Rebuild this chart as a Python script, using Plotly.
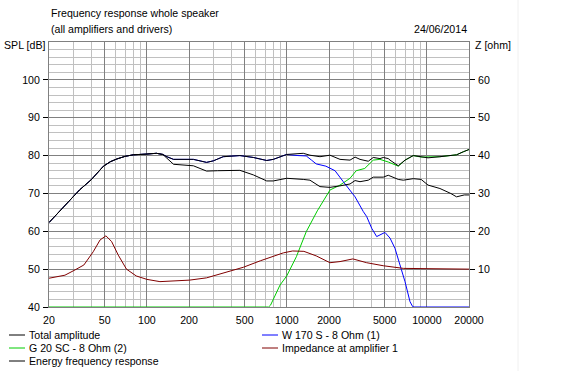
import plotly.graph_objects as go

# ---------------- data ----------------
freq_total = [20, 24, 30, 33, 40, 49, 55, 61, 70, 80, 100, 117, 130, 139, 155, 215, 267, 298, 351, 462,
              576, 718, 800, 998, 1310, 1462, 1724, 2032, 2398, 2826, 3070, 3330, 3816, 4140, 4625, 4885,
              5300, 5456, 6250, 6980, 8000, 9700, 10200, 12400, 16300, 18200, 20000]
spl_total = [62.3, 65.4, 69.0, 70.9, 73.6, 77.2, 78.4, 79.1, 79.8, 80.2, 80.4, 80.6, 80.3, 79.7, 79.0, 79.0,
             78.2, 78.6, 79.7, 80.0, 79.5, 78.7, 79.0, 80.3, 80.6, 80.1, 79.7, 80.1, 79.0, 78.8, 79.6, 79.0,
             78.5, 79.5, 79.2, 79.5, 79.2, 78.8, 77.3, 78.8, 80.0, 79.5, 79.4, 79.7, 80.2, 81.0, 81.6]

freq_energy = [20, 24, 30, 33, 40, 49, 55, 61, 70, 80, 100, 117, 130, 139, 155, 215, 267, 320, 462, 576,
               718, 800, 998, 1310, 1462, 1724, 2032, 2398, 2826, 3070, 3330, 3816, 4140, 4885, 5300, 6250,
               6790, 8000, 9100, 10200, 12400, 14800, 16300, 18500, 20000]
spl_energy = [62.3, 65.4, 69.0, 70.9, 73.6, 77.2, 78.4, 79.1, 79.8, 80.2, 80.4, 80.6, 80.3, 79.3, 77.7, 77.3,
              75.9, 76.0, 76.1, 74.9, 73.3, 73.3, 74.0, 73.7, 73.5, 71.8, 71.6, 72.0, 72.5, 73.4, 73.1, 73.5,
              74.3, 74.3, 74.8, 73.7, 73.5, 73.9, 73.7, 72.2, 71.3, 70.0, 69.1, 69.6, 69.6]

freq_woofer = [20, 24, 30, 33, 40, 49, 55, 61, 70, 80, 100, 117, 130, 139, 155, 215, 267, 298, 351, 462,
               576, 718, 800, 845, 998, 1200, 1376, 1500, 1620, 1900, 2208, 2530, 2826, 3070, 3516, 3716,
               4036, 4380, 5020, 5456, 5920, 6427, 6980, 7580, 7920, 8100, 20000]
spl_woofer = [62.3, 65.4, 69.0, 70.9, 73.6, 77.2, 78.4, 79.1, 79.8, 80.2, 80.4, 80.6, 80.3, 79.7, 79.0, 79.0,
              78.2, 78.6, 79.7, 80.0, 79.5, 78.7, 79.0, 79.3, 80.3, 80.0, 79.9, 78.8, 77.8, 77.2, 76.0, 73.1,
              70.9, 69.1, 65.2, 63.9, 60.8, 58.6, 59.7, 58.2, 55.5, 51.1, 46.7, 41.4, 40.1, 40.0, 40.0]

freq_tweeter = [20, 740, 765, 894, 998, 1170, 1376, 1415, 1650, 2032, 2398, 2826, 3130, 3600, 4140, 4625,
                5300, 6250, 7000, 8000, 9100, 12400, 16300, 18200, 20000]
spl_tweeter = [40.0, 40.0, 40.5, 45.8, 48.2, 53.3, 59.9, 60.8, 65.4, 70.9, 72.2, 74.0, 76.0, 76.6, 78.8, 79.0,
               78.3, 77.2, 78.8, 80.0, 79.6, 79.7, 80.2, 81.0, 81.6]

freq_imp = [20, 26, 30.7, 35.5, 41.4, 46.3, 51, 56, 62.5, 71.5, 84, 100, 124, 155, 202, 267, 372, 489, 646,
            800, 944, 1100, 1324, 1620, 2032, 2398, 2962, 3716, 4885, 6790, 10000, 14000, 20000]
z_imp = [7.6, 8.4, 9.8, 11.1, 14.6, 17.7, 18.8, 17.3, 13.7, 10.0, 8.2, 7.3, 6.7, 6.9, 7.1, 7.7, 9.3, 10.5, 12.2,
         13.5, 14.3, 14.8, 14.7, 13.5, 11.7, 12.0, 12.7, 11.7, 10.9, 10.2, 10.2, 10.1, 10.0]

x_tick_vals = [20, 50, 100, 200, 500, 1000, 2000, 5000, 10000, 20000]
x_tick_text = ["20", "50", "100", "200", "500", "1000", "2000", "5000", "10000", "20000"]
x_minor_vals = [30, 40, 60, 70, 80, 90, 300, 400, 600, 700, 800, 900,
                3000, 4000, 6000, 7000, 8000, 9000]
spl_ticks = [40, 50, 60, 70, 80, 90, 100]
z_ticks = [10, 20, 30, 40, 50, 60]

legend_items = [("Total amplitude", "#000000"), ("W 170 S - 8 Ohm (1)", "#0000ff"),
                ("G 20 SC - 8 Ohm (2)", "#00cc00"), ("Impedance at amplifier 1", "#800000"),
                ("Energy frequency response", "#000000")]

# ---------------- figure ----------------
W, H = 573, 371
L, R, T, B = 49, 469, 42, 307
FONT = "Liberation Sans, Arial, sans-serif"
FS = 10.6


def px(xp):
    return (xp - L) / (R - L)


def py(yp):
    return (B - yp) / (B - T)


fig = go.Figure()
fig.add_trace(go.Scatter(x=freq_tweeter, y=spl_tweeter, mode="lines",
                         line=dict(color="#00cc00", width=1), name="G 20 SC - 8 Ohm (2)"))
fig.add_trace(go.Scatter(x=freq_woofer, y=spl_woofer, mode="lines",
                         line=dict(color="#0000ff", width=1), name="W 170 S - 8 Ohm (1)"))
fig.add_trace(go.Scatter(x=freq_imp, y=z_imp, mode="lines", yaxis="y2",
                         line=dict(color="#800000", width=1), name="Impedance at amplifier 1"))
fig.add_trace(go.Scatter(x=freq_energy, y=spl_energy, mode="lines",
                         line=dict(color="#000000", width=1), name="Energy frequency response"))
fig.add_trace(go.Scatter(x=freq_total, y=spl_total, mode="lines",
                         line=dict(color="#000000", width=1), name="Total amplitude"))

fig.update_layout(
    width=W, height=H,
    margin=dict(l=L, r=W - R, t=T, b=H - B, pad=0),
    paper_bgcolor="white", plot_bgcolor="white",
    showlegend=False, hovermode=False,
    font=dict(family=FONT, size=FS, color="black"),
    xaxis=dict(type="log", range=[1.30103, 4.30103], tickmode="array",
               tickvals=x_tick_vals, ticktext=x_tick_text,
               showgrid=True, gridcolor="#808080", gridwidth=1,
               minor=dict(tickmode="array", tickvals=x_minor_vals, showgrid=True,
                          gridcolor="#c0c0c0", gridwidth=1, ticks=""),
               ticks="", ticklabelstandoff=3,
               showline=True, mirror=True, linecolor="#808080", linewidth=1,
               zeroline=False, fixedrange=True),
    yaxis=dict(range=[40, 110], tickmode="array", tickvals=spl_ticks,
               showgrid=True, gridcolor="#808080", gridwidth=1,
               minor=dict(dtick=2, tick0=40, showgrid=True, gridcolor="#c0c0c0", gridwidth=1),
               ticks="outside", ticklen=5, tickcolor="black", tickwidth=1,
               showline=True, mirror=True, linecolor="#808080", linewidth=1,
               zeroline=False, ticklabelstandoff=1, fixedrange=True),
    yaxis2=dict(range=[0, 70], overlaying="y", side="right", tickmode="array", tickvals=z_ticks,
                showgrid=False, zeroline=False, showline=False,
                ticks="outside", ticklen=5, tickcolor="black", tickwidth=1,
                ticklabelstandoff=1, fixedrange=True),
)

ann = []
shapes = []
ann.append(dict(text="Frequency response whole speaker", x=px(49), y=py(13), xanchor="left",
                yanchor="middle"))
ann.append(dict(text="(all amplifiers and drivers)", x=px(49), y=py(29), xanchor="left", yanchor="middle"))
ann.append(dict(text="24/06/2014", x=px(469), y=py(29), xanchor="right", yanchor="middle"))
ann.append(dict(text="SPL [dB]", x=px(2), y=py(45), xanchor="left", yanchor="middle"))
ann.append(dict(text="Z [ohm]", x=px(473), y=py(45), xanchor="left", yanchor="middle"))

leg_pos = [(9, 335), (262, 335), (9, 348), (262, 348), (9, 361)]
for (name, color), (lx, ly) in zip(legend_items, leg_pos):
    shapes.append(dict(type="line", xref="paper", yref="paper", x0=px(lx), x1=px(lx + 16),
                       y0=py(ly), y1=py(ly), line=dict(color=color, width=1)))
    ann.append(dict(text=name, x=px(lx + 18), y=py(ly), xanchor="left", yanchor="middle"))

for a in ann:
    a.update(xref="paper", yref="paper", showarrow=False, font=dict(family=FONT, size=FS, color="black"))

shapes.append(dict(type="line", xref="paper", yref="paper", x0=px(518), x1=px(518), y0=py(0), y1=py(371),
                   line=dict(color="#f0f0f0", width=1)))

fig.update_layout(annotations=ann, shapes=shapes)
fig.write_html("out.html", config={"displayModeBar": False, "staticPlot": True},
               post_script="document.body.style.margin='0px';document.body.style.overflow='hidden';")
